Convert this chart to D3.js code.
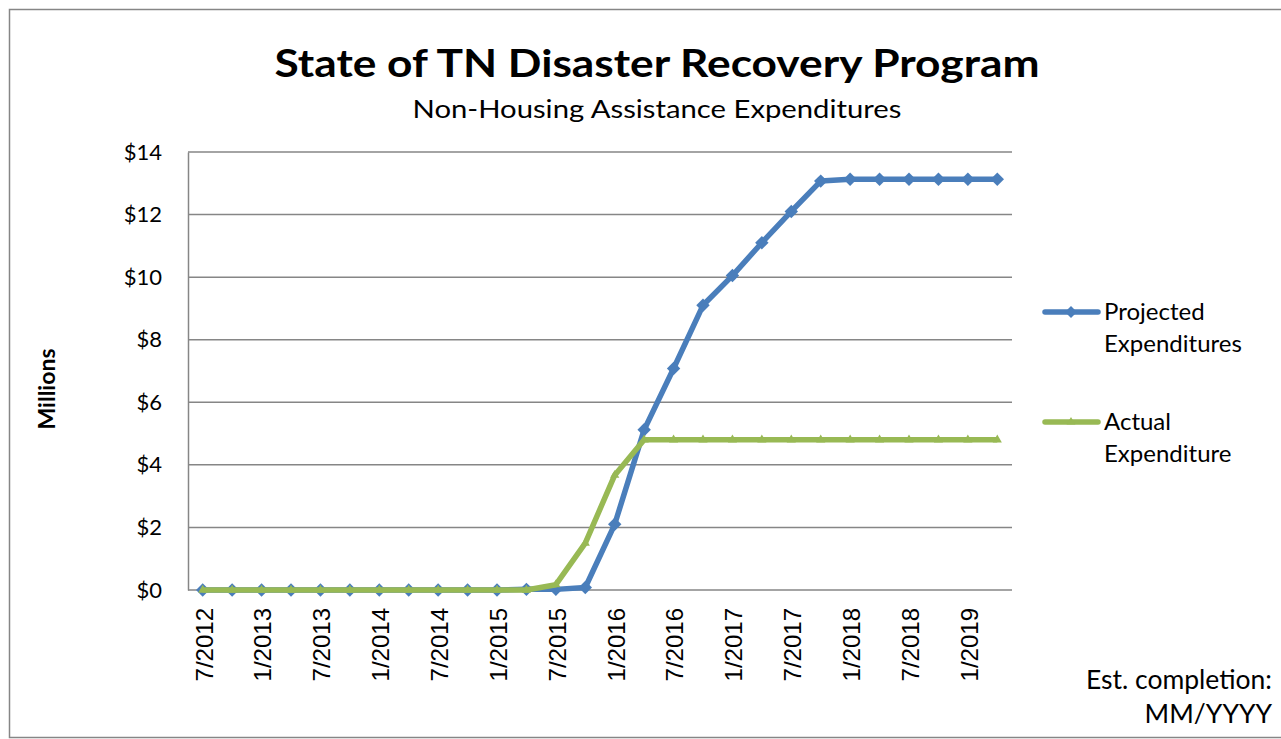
<!DOCTYPE html>
<html>
<head>
<meta charset="utf-8">
<script src="https://cdn.jsdelivr.net/npm/d3@7"></script>
<style>
  body { margin:0; background:#fff; }
  svg text { fill:#000; }
</style>
</head>
<body>
<div id="chart"></div>
<script>
// quarters from 7/2012 to 4/2019
var quarters = ["7/2012","10/2012","1/2013","4/2013","7/2013","10/2013","1/2014","4/2014",
  "7/2014","10/2014","1/2015","4/2015","7/2015","10/2015","1/2016","4/2016",
  "7/2016","10/2016","1/2017","4/2017","7/2017","10/2017","1/2018","4/2018",
  "7/2018","10/2018","1/2019","4/2019"];
var tickLabels = ["7/2012","1/2013","7/2013","1/2014","7/2014","1/2015","7/2015",
  "1/2016","7/2016","1/2017","7/2017","1/2018","7/2018","1/2019"];
var projected = [0,0,0,0,0,0,0,0,0,0,0,0.02,0.02,0.08,2.1,5.12,7.08,9.1,10.05,11.1,12.1,13.07,13.13,13.13,13.13,13.13,13.13,13.13];
var actual = [0,0,0,0,0,0,0,0,0,0,0,0,0.17,1.5,3.67,4.8,4.8,4.8,4.8,4.8,4.8,4.8,4.8,4.8,4.8,4.8,4.8,4.8];
var yTicks = [0,2,4,6,8,10,12,14];

var W = 1281, H = 739;
var plotLeft = 188, plotRight = 1012, plotTop = 152, plotBottom = 590;
var calibri = "Lato, 'Open Sans', sans-serif";

var svg = d3.select("#chart").append("svg").attr("width",W).attr("height",H);

// outer chart border
svg.append("rect").attr("x",9.5).attr("y",9.5).attr("width",W+20).attr("height",728)
   .attr("fill","none").attr("stroke","#868686").attr("stroke-width",1.5);

var x = d3.scalePoint().domain(quarters).range([plotLeft,plotRight]).padding(0.5);
var y = d3.scaleLinear().domain([0,14]).range([plotBottom,plotTop]);

// gridlines
svg.append("g").selectAll("line").data(yTicks).enter().append("line")
   .attr("x1",plotLeft).attr("x2",plotRight)
   .attr("y1",function(d){return y(d);}).attr("y2",function(d){return y(d);})
   .style("stroke","#868686").style("stroke-width","1.5px");

var yAxis = svg.append("g").attr("transform","translate("+plotLeft+",0)")
   .call(d3.axisLeft(y).tickValues(yTicks).tickSize(0).tickPadding(26).tickFormat(function(d){return "$"+d;}));
yAxis.select(".domain").style("stroke","#868686").style("stroke-width","1.5px");
yAxis.selectAll("text").style("font-family",calibri).style("font-size","22px");

// x axis labels (every other quarter)
var xAxis = svg.append("g").attr("transform","translate(0,"+plotBottom+")")
   .call(d3.axisBottom(x).tickValues(tickLabels).tickSize(0).tickPadding(0));
xAxis.select(".domain").remove();
xAxis.selectAll("text")
   .style("font-family","'Liberation Sans', Arial, sans-serif").style("font-size","24px")
   .attr("text-anchor","end").attr("dy","0.35em").attr("y",0)
   .attr("transform","translate(1,18) rotate(-90)");

function drawSeries(vals,color,shape,size){
  var line = d3.line().x(function(d,i){return x(quarters[i]);}).y(function(d){return y(d);});
  svg.append("path").datum(vals).attr("d",line).attr("fill","none")
     .style("stroke",color).style("stroke-width","5.5px").style("stroke-linejoin","round");
  var sym = d3.symbol().type(shape).size(size);
  svg.append("g").selectAll("path").data(vals).enter().append("path")
     .attr("d",sym).attr("fill",color)
     .attr("transform",function(d,i){return "translate("+x(quarters[i])+","+y(d)+")";});
}
drawSeries(projected,"#4A7EBB",d3.symbolDiamond2,115);
drawSeries(actual,"#98B954",d3.symbolTriangle2,60);

// titles
svg.append("text").attr("x",657).attr("y",77).attr("text-anchor","middle")
   .style("font-family",calibri).style("font-weight","bold").style("font-size","38px")
   .attr("textLength",765).attr("lengthAdjust","spacingAndGlyphs")
   .text("State of TN Disaster Recovery Program");
svg.append("text").attr("x",657).attr("y",118).attr("text-anchor","middle")
   .style("font-family",calibri).style("font-size","25px")
   .attr("textLength",489).attr("lengthAdjust","spacingAndGlyphs")
   .text("Non-Housing Assistance Expenditures");

svg.append("text").attr("transform","translate(55,389) rotate(-90)").attr("text-anchor","middle")
   .style("font-family",calibri).style("font-weight","bold").style("font-size","23px")
   .text("Millions");

// legend
var legend = [
  {name:["Projected","Expenditures"], color:"#4A7EBB", shape:d3.symbolDiamond2, size:90, y:312},
  {name:["Actual","Expenditure"], color:"#98B954", shape:d3.symbolTriangle2, size:55, y:422}
];
legend.forEach(function(l){
  var g = svg.append("g");
  g.append("line").attr("x1",1045).attr("x2",1098).attr("y1",l.y).attr("y2",l.y)
   .style("stroke",l.color).style("stroke-width","5.5px").style("stroke-linecap","round");
  g.append("path").attr("d",d3.symbol().type(l.shape).size(l.size)())
   .attr("fill",l.color).attr("transform","translate(1071,"+l.y+")");
  l.name.forEach(function(t,i){
    g.append("text").attr("x",1104).attr("y",l.y+8+i*32)
     .style("font-family",calibri).style("font-size","24px").text(t);
  });
});

svg.append("text").attr("x",1272).attr("y",689).attr("text-anchor","end")
   .style("font-family",calibri).style("font-size","26.5px").text("Est. completion:");
svg.append("text").attr("x",1272).attr("y",723).attr("text-anchor","end")
   .style("font-family",calibri).style("font-size","26.5px").text("MM/YYYY");
</script>
</body>
</html>
